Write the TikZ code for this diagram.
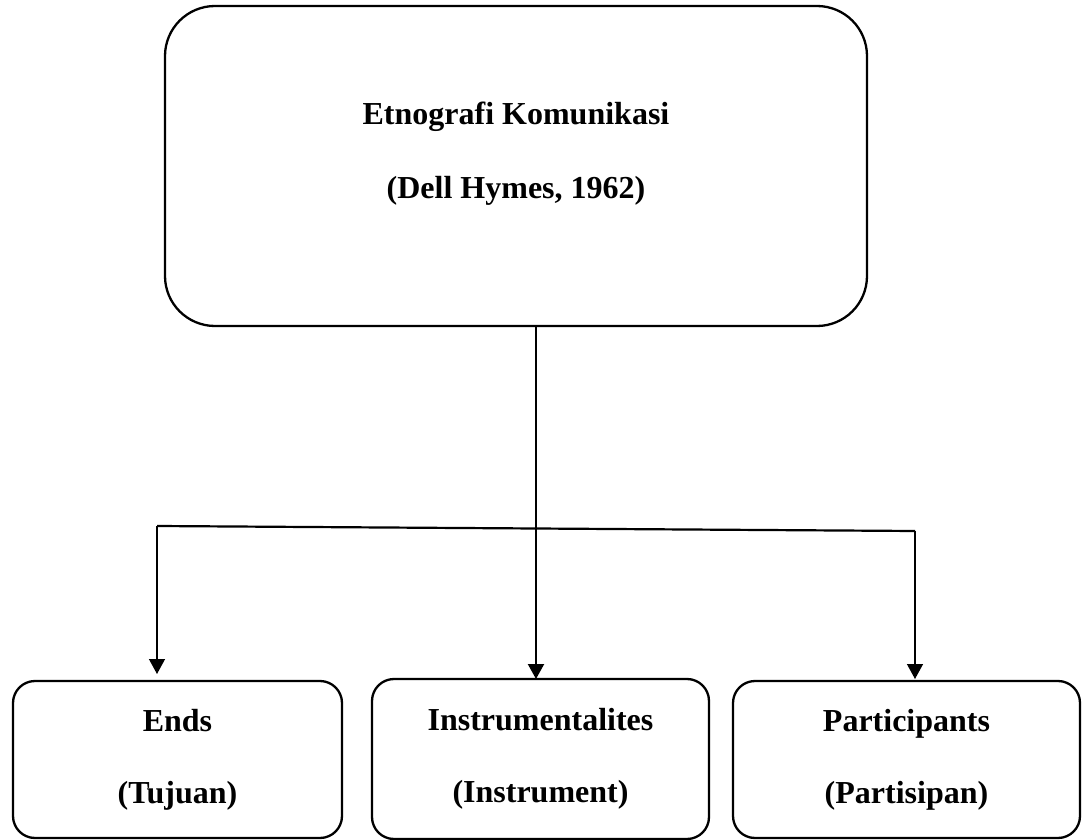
\documentclass[tikz,border=0pt]{standalone}
\usepackage{fontspec}
\setmainfont{Liberation Serif}
\usetikzlibrary{arrows.meta,positioning,shapes,calc}

\tikzset{
  bigbox/.style = {draw, line width = 1.15pt, rounded corners = 25pt, inner sep = 0pt, outer sep = 0pt,
    align = center, minimum width = 351pt, minimum height = 160pt,
    font = \fontsize{16}{37}\selectfont\bfseries},
  smallbox/.style = {draw, line width = 1.15pt, rounded corners = 11pt, inner sep = 0pt, outer sep = 0pt,
    align = center, minimum height = 78.5pt,
    font = \fontsize{16}{36}\selectfont\bfseries},
  tip/.style = {-{Triangle[length = 7.5pt, width = 8pt]}},
}

\begin{document}
\begin{tikzpicture}[x = .5pt, y = -.5pt]
    \useasboundingbox (0,0) rectangle (1083,840);
    \node[bigbox, text depth = 16pt] (etno) at (516,166) {Etnografi Komunikasi\\(Dell Hymes, 1962)};
    \node[smallbox, minimum width = 164.5pt] (ends) at (177.5,759.5) {Ends\\(Tujuan)};
    \node[smallbox, minimum width = 168.5pt, minimum height = 80pt] (instr) at (540.5,759) {Instrumentalites\\(Instrument)};
    \node[smallbox, minimum width = 173.5pt] (part) at (906.5,759.5) {Participants\\(Partisipan)};
    \coordinate (jm) at (536,528);
    \coordinate (jl) at (157,526);
    \coordinate (jr) at (915,531);
    \draw[tip, line width = 1.1pt] (etno.south -| jm) -- (instr.north -| jm);
    \draw[line width = 1.1pt] (jl) -- (jr);
    \draw[tip, line width = .7pt, shorten > = 3.5pt] (jl) -- (jl |- ends.north);
    \draw[tip, line width = .7pt, shorten > = 1pt] (jr) -- (jr |- part.north);
  \end{tikzpicture}
\end{document}
